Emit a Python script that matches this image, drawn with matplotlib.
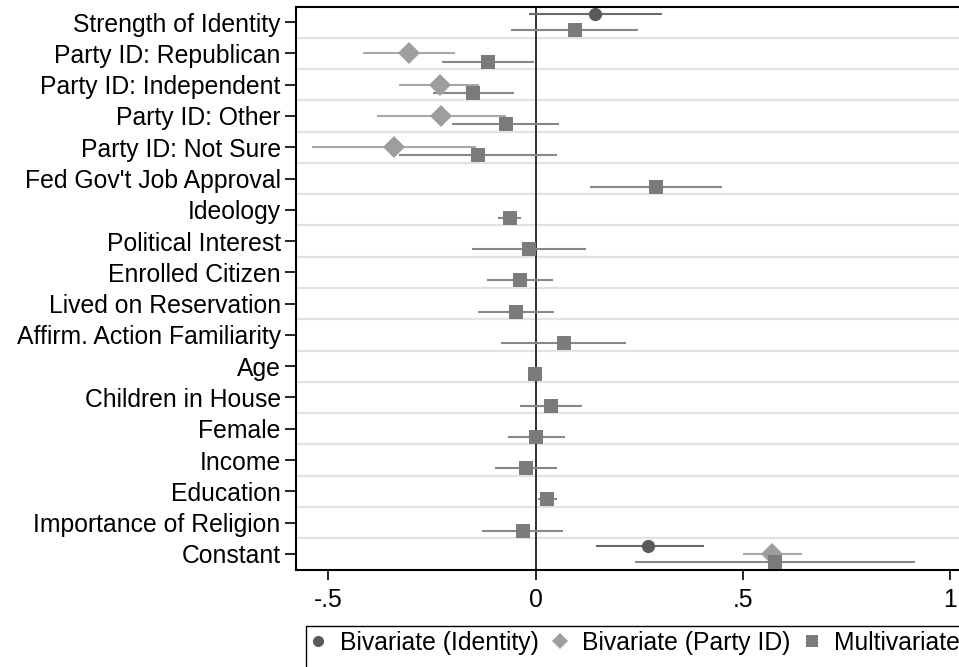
"""
Coefficient plot: three regression models side by side
(bivariate identity, bivariate party ID, multivariate).
"""

import numpy as np
import matplotlib
matplotlib.use("Agg")
import matplotlib.pyplot as plt
from matplotlib.lines import Line2D
from matplotlib.patches import Rectangle

plt.rcParams["font.family"] = ["Liberation Sans", "DejaVu Sans"]
plt.rcParams["font.size"] = 17.8

LABELS = [
    "Strength of Identity", "Party ID: Republican", "Party ID: Independent",
    "Party ID: Other", "Party ID: Not Sure", "Fed Gov't Job Approval",
    "Ideology", "Political Interest", "Enrolled Citizen",
    "Lived on Reservation", "Affirm. Action Familiarity", "Age",
    "Children in House", "Female", "Income", "Education",
    "Importance of Religion", "Constant",
]

# Bivariate (Identity): Strength of Identity + Constant
ID_ROWS = [0, 17]
ID_COEF = [0.143, 0.272]
ID_LO = [-0.015, 0.145]
ID_HI = [0.304, 0.405]

# Bivariate (Party ID): four party dummies + Constant
PID_ROWS = [1, 2, 3, 4, 17]
PID_COEF = [-0.306, -0.231, -0.228, -0.342, 0.571]
PID_LO = [-0.417, -0.329, -0.382, -0.539, 0.500]
PID_HI = [-0.194, -0.137, -0.072, -0.145, 0.642]

# Multivariate: every row
MV_ROWS = list(range(18))
MV_COEF = [0.094, -0.115, -0.151, -0.072, -0.139, 0.290, -0.062, -0.016,
           -0.038, -0.048, 0.068, -0.002, 0.037, 0.001, -0.023, 0.027,
           -0.031, 0.577]
MV_LO = [-0.059, -0.225, -0.248, -0.202, -0.330, 0.131, -0.090, -0.154,
         -0.117, -0.138, -0.084, -0.005, -0.038, -0.067, -0.099, 0.006,
         -0.129, 0.239]
MV_HI = [0.247, -0.004, -0.052, 0.057, 0.051, 0.449, -0.035, 0.121,
         0.043, 0.045, 0.219, 0.002, 0.112, 0.070, 0.051, 0.051,
         0.067, 0.915]

XTICKS = [-0.5, 0, 0.5, 1]
XTICKLABELS = ["-.5", "0", ".5", "1"]

# (name, rows, coef, lo, hi, offset, marker, ms, marker colour, line colour)
SERIES = [
    ("Bivariate (Identity)", ID_ROWS, ID_COEF, ID_LO, ID_HI,
     -0.26, "o", 9.5, "#5a5a5a", "#6a6a6a"),
    ("Bivariate (Party ID)", PID_ROWS, PID_COEF, PID_LO, PID_HI,
     0.0, "D", 11.0, "#9e9e9e", "#a8a8a8"),
    ("Multivariate", MV_ROWS, MV_COEF, MV_LO, MV_HI,
     0.26, "s", 10.0, "#7b7b7b", "#878787"),
]


def main():
    W, H = 959, 667
    fig = plt.figure(figsize=(W / 100, H / 100), dpi=100)
    ax = fig.add_axes([296 / W, 1 - 569.5 / H, (W - 296) / W,
                       (569.5 - 6.5) / H])

    n = len(LABELS)
    ax.set_ylim(n - 0.5, -0.5)
    ax.set_xlim(-0.578, 1.021)

    # light separators between coefficient rows
    for k in range(n - 1):
        ax.axhline(k + 0.5, color="#e2e2e2", lw=1.6, zorder=1)
    ax.axvline(0, color="#2e2e2e", lw=1.4, zorder=2)

    for name, rows, coef, lo, hi, off, mk, ms, mc, lc in SERIES:
        y = np.asarray(rows) + off
        ax.hlines(y, lo, hi, color=lc, lw=1.5, zorder=3)
        ax.plot(coef, y, linestyle="none", marker=mk, ms=ms,
                color=mc, markeredgewidth=0, zorder=4)

    ax.set_yticks(range(n))
    ax.set_yticklabels(LABELS)
    ax.set_xticks(XTICKS)
    ax.set_xticklabels(XTICKLABELS)
    ax.tick_params(axis="y", length=8, width=1.2, pad=3)
    ax.tick_params(axis="x", length=7.5, width=1.2, pad=5.5)
    for side in ("left", "top", "bottom"):
        ax.spines[side].set_linewidth(1.5)
    ax.spines["right"].set_visible(False)

    # legend box runs off the bottom/right edge of the image
    fig.patches.append(Rectangle((306 / W, -0.05), 1.0, 1 - 626 / H + 0.05,
                                 transform=fig.transFigure, fill=False,
                                 edgecolor="black", lw=1.0))
    leg_ms = [8.0, 8.5, 8.0]
    handles = [Line2D([], [], linestyle="none", marker=s[6], color=s[8],
                      markeredgewidth=0, ms=m) for s, m in zip(SERIES, leg_ms)]
    fig.legend(handles, [s[0] for s in SERIES], ncol=3, frameon=False,
               loc="center left", bbox_to_anchor=(308 / W, 1 - 643 / H),
               bbox_transform=fig.transFigure, borderpad=0, borderaxespad=0,
               handlelength=0.8, handletextpad=0.5, columnspacing=0.45)

    fig.savefig("out.png", dpi=100)
    plt.close(fig)


if __name__ == "__main__":
    main()
